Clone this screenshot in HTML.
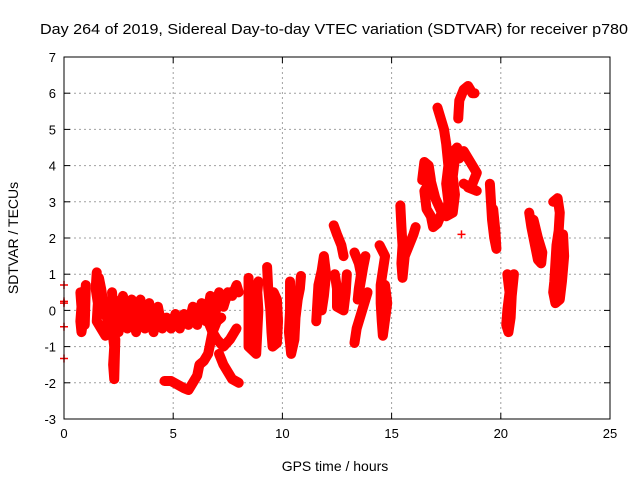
<!DOCTYPE html>
<html><head><meta charset="utf-8"><style>
body{margin:0;background:#fff}
svg{display:block;font-family:"Liberation Sans",sans-serif}
</style></head><body>
<svg id="chart" width="640" height="480">
<rect width="640" height="480" fill="#fff"/>
<text x="40" y="34" font-size="15" textLength="588" lengthAdjust="spacingAndGlyphs">Day 264 of 2019, Sidereal Day-to-day VTEC variation (SDTVAR) for receiver p780</text>
<g id="grid"></g><g id="data"></g><g id="axes"></g>
<text x="335" y="471" font-size="14" text-anchor="middle">GPS time / hours</text>
<text transform="translate(18,238) rotate(-90)" font-size="14" text-anchor="middle">SDTVAR / TECUs</text>
</svg>
<script>
const xTicks=[0,5,10,15,20,25];
const yTicks=[-3,-2,-1,0,1,2,3,4,5,6,7];
const seg0=[[0,0.7],[0,0.25],[0,0.2],[0,-0.45],[0,-1.33]];
const seg1=[[0.75,0.5],[0.8,0.1],[0.75,-0.3],[0.8,-0.6],[0.9,-0.2],[0.95,0.3],[1.0,0.7],[0.95,-0.4]];
const seg2=[[1.5,1.05],[1.45,0.6],[1.55,0.2],[1.5,-0.3],[1.7,-0.5],[1.9,-0.7],[2.0,-0.3],[1.8,0.2],[1.7,0.6],[1.6,0.9]];
const seg3=[[2.2,0.5],[2.25,0.0],[2.2,-0.5],[2.3,-1.0],[2.25,-1.5],[2.3,-1.9],[2.35,-0.8]];
const seg4=[[2.3,0.3],[2.5,-0.6],[2.7,0.4],[2.9,-0.5],[3.1,0.3],[3.3,-0.6],[3.5,0.3],[3.7,-0.5],[3.9,0.2],[4.1,-0.6],[4.3,0.1],[4.5,-0.5],[4.7,-0.2],[4.9,-0.5],[5.1,-0.1],[5.3,-0.5],[5.5,-0.1],[5.7,-0.4],[5.9,0.1],[6.1,-0.4],[6.3,0.2],[6.5,-0.3],[6.7,0.4],[6.9,-0.2],[7.1,0.5],[7.3,0.1],[7.5,0.5],[7.7,0.4],[7.9,0.7],[8.0,0.5]];
const seg5=[[2.4,0.1],[2.8,-0.1],[3.2,-0.2],[3.6,0.0],[4.0,-0.2],[4.4,-0.2],[4.8,-0.3],[5.2,-0.3],[5.6,-0.2],[6.0,-0.2],[6.4,-0.1],[6.8,0.1],[7.2,0.2],[7.6,0.5]];
const seg6=[[4.6,-1.95],[4.9,-1.95],[5.2,-2.05],[5.5,-2.15],[5.7,-2.2],[5.9,-2.0],[6.1,-1.8],[6.2,-1.5],[6.4,-1.4],[6.6,-1.2],[6.7,-0.9],[6.8,-0.6],[7.0,-0.3],[7.2,-0.2]];
const seg7=[[6.6,-0.3],[6.8,-0.6],[7.0,-0.8],[7.3,-1.0],[7.6,-0.8],[7.9,-0.5]];
const seg8=[[7.1,-1.2],[7.3,-1.5],[7.5,-1.7],[7.7,-1.9],[8.0,-2.0]];
const seg9=[[8.45,0.9],[8.45,0.0],[8.45,-1.0],[8.8,-1.2],[8.85,-0.6],[8.9,0.0],[8.85,0.5],[8.9,0.8]];
const seg10=[[9.3,1.2],[9.35,0.6],[9.45,0.0],[9.5,-0.6],[9.55,-1.0],[9.75,-0.9],[9.8,-0.3],[9.75,0.3],[9.6,0.5]];
const seg11=[[10.35,0.8],[10.35,0.0],[10.3,-0.6],[10.4,-1.2],[10.55,-0.8],[10.6,-0.2],[10.7,0.3],[10.8,0.6],[10.85,0.95]];
const seg12=[[11.55,-0.3],[11.6,0.2],[11.65,0.7],[11.8,1.1],[11.9,1.5],[12.0,1.0],[11.9,0.4],[11.8,0.0]];
const seg13=[[12.35,2.35],[12.5,2.1],[12.7,1.8],[12.8,1.5]];
const seg14=[[12.4,1.0],[12.5,0.6],[12.5,0.1],[12.8,0.0],[12.9,0.5],[12.95,1.0]];
const seg15=[[13.3,1.6],[13.5,1.3],[13.6,1.0],[13.5,0.6],[13.45,0.3],[13.7,1.2],[13.8,1.5]];
const seg16=[[13.3,-0.9],[13.4,-0.5],[13.6,-0.1],[13.8,0.3],[13.9,0.5]];
const seg17=[[14.45,1.8],[14.7,1.5],[14.5,0.7],[14.5,0.2],[14.55,-0.3],[14.6,-0.7],[14.8,0.2],[14.7,0.7]];
const seg18=[[15.4,2.9],[15.45,2.3],[15.5,1.8],[15.45,1.3],[15.5,0.9],[15.6,1.5],[15.8,1.8],[16.0,2.1],[16.1,2.3]];
const seg19=[[16.1,0.0],[16.1,2.0]];
const seg20=[[16.4,3.6],[16.5,4.1],[16.7,4.0],[16.8,3.6],[16.5,3.3],[16.6,2.8],[16.8,2.6],[16.9,2.3],[17.1,2.4],[17.3,2.7],[17.0,3.1],[16.7,3.8]];
const seg21=[[17.1,5.6],[17.4,5.0],[17.5,4.6],[17.6,4.0],[17.5,3.5],[17.6,3.0],[17.5,2.6],[17.8,2.7],[17.9,3.2],[17.8,3.7],[17.9,4.2],[18.0,4.5],[17.7,4.3]];
const seg22=[[18.05,5.3],[18.1,5.8],[18.3,6.1],[18.5,6.2],[18.7,6.0],[18.8,6.0]];
const seg23=[[18.1,4.2],[18.3,4.4],[18.5,4.2],[18.7,4.0],[18.9,3.8],[18.7,3.5],[18.5,3.4],[18.9,3.3],[18.3,3.5]];
const seg24=[[18.2,2.1]];
const seg25=[[19.5,3.5],[19.55,3.0],[19.6,2.5],[19.7,2.0],[19.8,1.7],[19.75,2.2],[19.65,2.8]];
const seg26=[[20.3,1.0],[20.4,0.5],[20.3,0.0],[20.25,-0.4],[20.35,-0.6],[20.45,-0.2],[20.5,0.4],[20.6,1.0]];
const seg27=[[21.3,2.7],[21.4,2.3],[21.5,2.0],[21.6,1.7],[21.7,1.4],[21.85,1.3],[21.9,1.6],[21.7,2.0],[21.5,2.5]];
const seg28=[[22.4,3.0],[22.6,3.1],[22.7,2.7],[22.65,2.2],[22.55,1.8],[22.5,1.3],[22.45,0.8],[22.4,0.5],[22.5,0.2],[22.7,0.3],[22.8,0.8],[22.9,1.5],[22.85,2.1]];
const segments=[seg0,seg1,seg2,seg3,seg4,seg5,seg6,seg7,seg8,seg9,seg10,seg11,seg12,seg13,seg14,seg15,seg16,seg17,seg18,seg20,seg21,seg22,seg23,seg24,seg25,seg26,seg27,seg28];

const NS='http://www.w3.org/2000/svg';
const X0=64,X1=610,Y0=419,Y1=57;
function sx(t){return X0+(t-0)/(25-0)*(X1-X0);}
function sy(v){return Y0-(v+3)/(7+3)*(Y0-Y1);}
function mk(tag,attrs,parent){const e=document.createElementNS(NS,tag);for(const k in attrs)e.setAttribute(k,attrs[k]);parent.appendChild(e);return e;}
const grid=document.getElementById('grid'),axes=document.getElementById('axes'),data=document.getElementById('data');
xTicks.forEach(t=>{
  const x=sx(t);
  if(t>0&&t<25){const g=mk('line',{x1:x,x2:x,y1:Y1,y2:Y0,stroke:'#a0a0a0','stroke-dasharray':'2,3'},grid);
  
  }
  mk('line',{x1:x,x2:x,y1:Y0,y2:Y0-6,stroke:'#000'},axes);
  mk('line',{x1:x,x2:x,y1:Y1,y2:Y1+6,stroke:'#000'},axes);
  const l=mk('text',{x:x,y:Y0+19,'font-size':13,'text-anchor':'middle'},axes);l.textContent=t;
  
  
});
yTicks.forEach(v=>{
  const y=sy(v);
  if(v>-3&&v<7){const g=mk('line',{x1:X0,x2:X1,y1:y,y2:y,stroke:'#a0a0a0','stroke-dasharray':'2,3'},grid);
  
  }
  mk('line',{x1:X0,x2:X0+6,y1:y,y2:y,stroke:'#000'},axes);
  mk('line',{x1:X1,x2:X1-6,y1:y,y2:y,stroke:'#000'},axes);
  const l=mk('text',{x:X0-8,y:y+5,'font-size':13,'text-anchor':'end'},axes);l.textContent=v;
  
  
});
const frame=mk('rect',{x:X0,y:Y1,width:X1-X0,height:Y0-Y1,fill:'none',stroke:'#000'},axes);


segments.forEach((s,i)=>{
  if(i>0){const pl=mk('polyline',{points:s.map(p=>sx(p[0])+','+sy(p[1])).join(' '),fill:'none',stroke:'#f00','stroke-width':10,'stroke-linejoin':'round','stroke-linecap':'round'},data);
  
  }
  s.forEach(p=>{
    const x=sx(p[0]),y=sy(p[1]);
    const c=mk('path',{d:`M${x-4},${y}h8M${x},${y-4}v8`,stroke:'#f00','stroke-width':1.5},data);
    
    
  });
});
</script>
</body></html>
